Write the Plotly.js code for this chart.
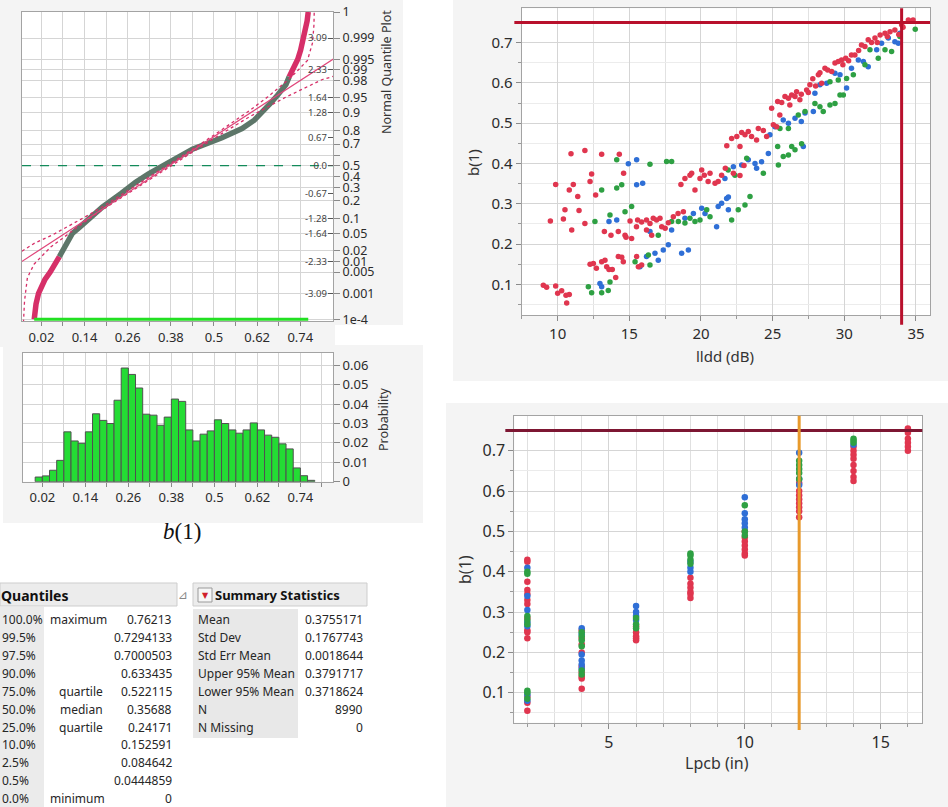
<!DOCTYPE html>
<html><head><meta charset="utf-8">
<script src="https://cdn.plot.ly/plotly-3.0.1.min.js"></script>
<style>html,body{margin:0;padding:0;background:#fff}#chart{width:948px;height:807px}</style>
</head><body><div id="chart"></div><script>
// ---------------- DATA ----------------
// Normal quantile plot: sorted b(1) vs normal quantile z
const qLowZ = [-3.72, -3.55, -3.35, -3.09, -2.9, -2.75, -2.576, -2.4, -2.2];
const qLowB = [0.0, 0.001, 0.005, 0.012, 0.02, 0.03, 0.0445, 0.058, 0.07];
const qMidZ = [-2.2, -1.96, -1.8, -1.64, -1.5, -1.28, -1.0, -0.674, -0.4, -0.2, 0, 0.2, 0.4, 0.674, 0.9, 1.1, 1.28, 1.5, 1.7, 1.96, 2.15];
const qMidB = [0.07, 0.0846, 0.094, 0.106, 0.125, 0.1526, 0.19, 0.2417, 0.282, 0.318, 0.3569, 0.398, 0.44, 0.5221, 0.578, 0.612, 0.6334, 0.656, 0.676, 0.7001, 0.709];
const qHighZ = [2.15, 2.35, 2.576, 2.8, 3.09, 3.3, 3.5, 3.72];
const qHighB = [0.709, 0.72, 0.733, 0.741, 0.75, 0.755, 0.759, 0.7621];
// confidence bands (dotted)
const bandUpB = [-0.034, 0.0, 0.05, 0.1, 0.15, 0.2, 0.3, 0.4, 0.5, 0.6, 0.65, 0.7, 0.727, 0.745, 0.76, 0.774, 0.778, 0.779];
const bandUpZ = [-2.07, -1.88, -1.68, -1.45, -1.2, -0.94, -0.39, 0.17, 0.74, 1.34, 1.67, 2.03, 2.25, 2.4, 2.55, 2.97, 3.4, 3.8];
const bandLoB = [-0.03, -0.029, -0.027, -0.019, 0.0, 0.02, 0.046, 0.1, 0.15, 0.2, 0.3, 0.4, 0.5, 0.6, 0.7, 0.8, 0.831];
const bandLoZ = [-3.8, -3.6, -3.28, -2.71, -2.38, -2.2, -1.97, -1.62, -1.3, -1.01, -0.45, 0.11, 0.66, 1.19, 1.66, 2.08, 2.16];
// probability axis
const probZ = [3.719, 3.09, 2.576, 2.326, 2.054, 1.645, 1.2816, 0.8416, 0.5244, 0.2533, 0, -0.2533, -0.5244, -0.8416, -1.2816, -1.645, -2.054, -2.326, -2.576, -3.09, -3.719];
const probText = ["1", "0.999", "0.995", "0.99", "0.98", "0.95", "0.9", "0.8", "0.7", "", "0.5", "0.4", "0.3", "0.2", "0.1", "0.05", "0.02", "0.01", "0.005", "0.001", "1e-4"];
const innerZ = [3.09, 2.326, 1.645, 1.2816, 0.674, 0, -0.674, -1.2816, -1.645, -2.326, -3.09];
const innerText = ["3.09", "2.33", "1.64", "1.28", "0.67", "0.0", "-0.67", "-1.28", "-1.64", "-2.33", "-3.09"];
const bTickVals = [0.02, 0.08, 0.14, 0.2, 0.26, 0.32, 0.38, 0.44, 0.5, 0.56, 0.62, 0.68, 0.74, 0.8];
const bTickText = ["0.02", "", "0.14", "", "0.26", "", "0.38", "", "0.5", "", "0.62", "", "0.74", ""];
// histogram
const binLeft = [0, 0.02, 0.04, 0.06, 0.08, 0.10, 0.12, 0.14, 0.16, 0.18, 0.20, 0.22, 0.24, 0.26, 0.28, 0.30, 0.32, 0.34, 0.36, 0.38, 0.40, 0.42, 0.44, 0.46, 0.48, 0.50, 0.52, 0.54, 0.56, 0.58, 0.60, 0.62, 0.64, 0.66, 0.68, 0.70, 0.72, 0.74, 0.76];
const binProb = [0.0024, 0.003, 0.0059, 0.011, 0.0257, 0.021, 0.0198, 0.0257, 0.035, 0.0316, 0.030, 0.042, 0.0586, 0.0553, 0.0483, 0.0348, 0.0343, 0.0291, 0.0333, 0.0426, 0.0414, 0.0267, 0.021, 0.0245, 0.0262, 0.0319, 0.030, 0.0267, 0.025, 0.0267, 0.0303, 0.0267, 0.024, 0.0229, 0.0195, 0.0169, 0.0071, 0.0031, 0.0007];
const probTickVals = [0, 0.01, 0.02, 0.03, 0.04, 0.05, 0.06];
const probTickText = ["0", "0.01", "0.02", "0.03", "0.04", "0.05", "0.06"];
// tables
const quantLevels = ["100.0%", "99.5%", "97.5%", "90.0%", "75.0%", "50.0%", "25.0%", "10.0%", "2.5%", "0.5%", "0.0%"];
const quantNotes = ["maximum", "", "", "", "quartile", "median", "quartile", "", "", "", "minimum"];
const quantValues = ["0.76213", "0.7294133", "0.7000503", "0.633435", "0.522115", "0.35688", "0.24171", "0.152591", "0.084642", "0.0444859", "0"];
const statLabels = ["Mean", "Std Dev", "Std Err Mean", "Upper 95% Mean", "Lower 95% Mean", "N", "N Missing"];
const statValues = ["0.3755171", "0.1767743", "0.0018644", "0.3791717", "0.3718624", "8990", "0"];
// Ildd scatter
const ilddRedX = [9.49,9.86,10.81,11.09,10.93,11.9,13.07,14.3,11.4,12.37,12.26,12.65,10.51,11.49,10.4,10.98,11.9,13.26,13.72,14.23,14.7,14.77,15.16,14.6,15.05,15.5,15.58,15.86,16.2,16.44,16.67,16.9,17.14,16.2,16.56,17.26,17.5,17.72,18.07,18.4,18.77,18.6,18.88,19.23,19.35,19.58,19.93,20.05,20.23,20.63,20.5,20.98,21.2,21.44,21.7,21.8,22.14,22.5,22.72,22.84,23.07,23.3,23.53,23.88,24.0,24.35,24.58,24.93,25.05,25.28,25.35,25.63,25.86,26.1,26.33,26.56,26.67,26.9,27.0,27.37,27.49,27.6,28.0,28.19,28.42,28.65,28.84,29.12,29.35,29.58,29.81,30.1,30.5,30.74,31.2,31.44,31.67,32.14,32.5,32.84,33.19,33.53,34.0,34.47,34.8,9.0,9.23,9.86,10.0,10.28,10.58,10.63,10.81,12.26,12.49,12.7,13.07,13.3,13.42,13.58,13.81,14.05,14.23,14.47,14.58,15.51,15.86,15.63,22.26,22.72,23.0,25.5,26.2,27.8,28.3,29.9,30.3,31.0,31.9,32.3,33.0,33.8,34.1];
const ilddRedY = [0.257,0.348,0.334,0.348,0.424,0.432,0.423,0.423,0.318,0.374,0.355,0.322,0.285,0.283,0.262,0.235,0.251,0.231,0.222,0.231,0.222,0.217,0.214,0.376,0.257,0.243,0.26,0.255,0.26,0.251,0.264,0.26,0.264,0.235,0.222,0.243,0.239,0.253,0.268,0.276,0.28,0.348,0.363,0.371,0.376,0.334,0.363,0.384,0.371,0.376,0.355,0.351,0.355,0.371,0.388,0.444,0.462,0.467,0.442,0.477,0.471,0.479,0.467,0.458,0.487,0.482,0.467,0.537,0.496,0.491,0.554,0.551,0.566,0.562,0.57,0.566,0.578,0.558,0.572,0.582,0.576,0.595,0.592,0.62,0.599,0.636,0.632,0.628,0.649,0.653,0.657,0.661,0.669,0.669,0.694,0.69,0.707,0.711,0.719,0.723,0.727,0.731,0.744,0.756,0.756,0.098,0.093,0.096,0.078,0.084,0.073,0.054,0.075,0.15,0.152,0.14,0.156,0.16,0.144,0.137,0.137,0.117,0.169,0.167,0.156,0.169,0.148,0.144,0.376,0.37,0.395,0.52,0.545,0.61,0.625,0.645,0.655,0.68,0.70,0.70,0.715,0.72,0.738];
const ilddBlueX = [13.58,14.12,14.93,15.51,15.51,15.93,15.74,16.2,16.44,16.79,17.02,17.37,17.72,17.95,18.65,19.12,18.88,19.47,20.05,20.28,21.09,21.2,21.44,21.79,21.91,21.91,21.67,22.26,22.84,23.3,23.77,23.88,24.23,24.7,24.81,25.16,25.74,26.1,26.56,27.0,27.14,27.26,27.84,27.95,28.3,28.77,29.35,29.7,30.16,30.5,30.98,31.33,31.67,32.26,32.6,33.07,33.53,33.77,33.88,12.95,13.07];
const ilddBlueY = [0.256,0.26,0.399,0.409,0.347,0.351,0.144,0.169,0.231,0.177,0.16,0.185,0.198,0.235,0.177,0.185,0.264,0.276,0.289,0.276,0.243,0.293,0.301,0.313,0.317,0.285,0.363,0.392,0.396,0.409,0.4,0.388,0.404,0.425,0.471,0.491,0.508,0.5,0.512,0.504,0.442,0.525,0.529,0.574,0.595,0.599,0.624,0.62,0.587,0.636,0.657,0.653,0.64,0.682,0.698,0.711,0.702,0.698,0.723,0.102,0.094];
const ilddGreenX = [12.6,13.07,13.65,14.12,14.12,14.47,14.7,15.16,16.44,17.6,17.95,12.14,12.37,13.07,13.53,13.65,15.4,16.33,16.44,17.02,17.95,18.42,18.88,19.23,19.58,19.93,20.4,20.63,22.14,22.6,23.07,23.42,21.9,22.37,23.19,24.35,25.35,25.4,25.74,26.1,26.33,26.56,27.02,25.51,26.1,26.79,27.26,27.95,28.3,28.53,29.0,29.35,29.7,29.93,29.0,29.58,30.16,30.63,31.44,31.79,32.37,32.84,33.3,33.88,34.95];
const ilddGreenY = [0.256,0.334,0.272,0.409,0.339,0.347,0.28,0.293,0.398,0.405,0.405,0.094,0.079,0.079,0.085,0.106,0.156,0.173,0.148,0.222,0.256,0.256,0.252,0.264,0.256,0.26,0.285,0.268,0.26,0.285,0.297,0.318,0.384,0.371,0.413,0.376,0.442,0.396,0.417,0.421,0.442,0.434,0.449,0.487,0.487,0.52,0.529,0.549,0.541,0.529,0.545,0.549,0.57,0.57,0.603,0.607,0.611,0.62,0.645,0.682,0.661,0.682,0.678,0.715,0.733];
// Lpcb scatter
const lpcbRedX = [2,2,2,2,2,2,2,2,2,2,2,2,2,2, 4,4,4,4,4,4,4,4,4, 6,6,6,6,6, 8,8,8,8,8,8, 10,10,10,10,10,10,10, 12,12,12,12,12,12,12,12, 14,14,14,14,14,14,14,14, 16,16,16,16,16,16];
const lpcbRedY = [0.43,0.425,0.375,0.355,0.345,0.33,0.32,0.285,0.255,0.25,0.235,0.09,0.075,0.055, 0.255,0.235,0.22,0.2,0.165,0.15,0.14,0.135,0.11, 0.265,0.25,0.24,0.235,0.23, 0.385,0.37,0.36,0.35,0.345,0.335, 0.5,0.485,0.475,0.465,0.455,0.445,0.44, 0.62,0.6,0.59,0.58,0.57,0.56,0.55,0.535, 0.71,0.7,0.69,0.68,0.665,0.65,0.635,0.625, 0.755,0.745,0.73,0.72,0.71,0.70];
const lpcbBlueX = [2,2,2,2,2,2,2, 4,4,4,4,4,4, 6,6,6,6, 8,8,8, 10,10,10,10,10, 12,12,12, 14];
const lpcbBlueY = [0.41,0.34,0.305,0.275,0.265,0.095,0.08, 0.26,0.245,0.195,0.18,0.17,0.16, 0.315,0.30,0.29,0.28, 0.425,0.41,0.40, 0.585,0.545,0.53,0.52,0.51, 0.695,0.63,0.615, 0.715];
const lpcbGreenX = [2,2,2,2,2,2,2,2, 4,4,4,4,4,4, 6,6,6, 8,8,8,8, 10,10,10, 12,12,12,12,12, 14,14,14];
const lpcbGreenY = [0.40,0.395,0.29,0.28,0.27,0.105,0.1,0.085, 0.25,0.24,0.23,0.215,0.155,0.145, 0.285,0.27,0.26, 0.445,0.44,0.43,0.42, 0.565,0.5,0.49, 0.675,0.665,0.655,0.645,0.63, 0.73,0.725,0.72];
// reference limits
const specLimit = 0.75;
const ilddLimit = 34;
const lpcbLimit = 12;

// ---------------- LAYOUT HELPERS ----------------
const W = 948, H = 807;
const fx = v => v / W, fy = v => 1 - v / H;
const FONT = "Noto Sans, DejaVu Sans, sans-serif";
const PINK = "#d62f68", GRAYG = "#5d7669", RED = "#e0364f", BLUE = "#2f6fd6", GREEN = "#2ea043";
const mean = parseFloat(statValues[0]), sd = parseFloat(statValues[1]);
const zRange = [-3.76, 3.72];
const bRange = [-0.034, 0.831];

const traces = [];
// z = 0 reference (dashed green)
traces.push({x: bRange, y: [0, 0], xaxis: 'x', yaxis: 'y', mode: 'lines', line: {color: '#138a5a', width: 1.2, dash: 'dash'}});
// quantile curve
traces.push({x: qLowB, y: qLowZ, xaxis: 'x', yaxis: 'y', mode: 'lines', line: {color: PINK, width: 5.5}});
traces.push({x: qHighB, y: qHighZ, xaxis: 'x', yaxis: 'y', mode: 'lines', line: {color: PINK, width: 5.5}});
traces.push({x: qMidB, y: qMidZ, xaxis: 'x', yaxis: 'y', mode: 'lines', line: {color: GRAYG, width: 5.5}});
// rug at bottom
const rugMin = parseFloat(quantValues[10]), rugMax = parseFloat(quantValues[0]);
traces.push({x: [rugMin, rugMax], y: [-3.72, -3.72], xaxis: 'x', yaxis: 'y', mode: 'lines', line: {color: '#22e022', width: 3}});
// bands (on overlay axis)
traces.push({x: bandUpB, y: bandUpZ, xaxis: 'x', yaxis: 'y2', mode: 'lines', line: {color: PINK, width: 1.3, dash: 'dot'}});
traces.push({x: bandLoB, y: bandLoZ, xaxis: 'x', yaxis: 'y2', mode: 'lines', line: {color: PINK, width: 1.3, dash: 'dot'}});
traces.push({x: zRange.map(z => mean + sd * z), y: zRange, xaxis: 'x', yaxis: 'y2', mode: 'lines', line: {color: '#e0457a', width: 1.2}});
// histogram
traces.push({type: 'bar', x: binLeft, y: binProb, offset: 0, width: 0.02, xaxis: 'x2', yaxis: 'y3',
  marker: {color: '#24dc34', line: {color: '#505050', width: 1}}});
// Ildd scatter
const mk = (c, s) => ({color: c, size: s, line: {width: 0}});
traces.push({x: ilddBlueX, y: ilddBlueY, xaxis: 'x3', yaxis: 'y4', mode: 'markers', marker: mk(BLUE, 5.5)});
traces.push({x: ilddGreenX, y: ilddGreenY, xaxis: 'x3', yaxis: 'y4', mode: 'markers', marker: mk(GREEN, 5.5)});
traces.push({x: ilddRedX, y: ilddRedY, xaxis: 'x3', yaxis: 'y4', mode: 'markers', marker: mk(RED, 5.5)});
// Lpcb scatter
traces.push({x: lpcbRedX, y: lpcbRedY, xaxis: 'x4', yaxis: 'y5', mode: 'markers', marker: mk(RED, 6.5)});
traces.push({x: lpcbBlueX, y: lpcbBlueY, xaxis: 'x4', yaxis: 'y5', mode: 'markers', marker: mk(BLUE, 6.5)});
traces.push({x: lpcbGreenX, y: lpcbGreenY, xaxis: 'x4', yaxis: 'y5', mode: 'markers', marker: mk(GREEN, 6.5)});

const gridC = '#d5d5d5', lineC = '#a3a3a3', tickC = '#2b2b2b';
const base = () => ({showline: true, linecolor: lineC, linewidth: 1, mirror: true, zeroline: false,
  showgrid: true, gridcolor: gridC, gridwidth: 1, ticks: 'outside', tickcolor: '#8a8a8a', ticklen: 4,
  tickfont: {family: FONT, size: 13, color: tickC}, fixedrange: true});

const layout = {
  width: W, height: H, margin: {l: 0, r: 0, t: 0, b: 0}, paper_bgcolor: '#ffffff', plot_bgcolor: '#ffffff',
  showlegend: false, hovermode: false, bargap: 0, font: {family: FONT, color: tickC},
  xaxis: Object.assign(base(), {domain: [fx(22), fx(333)], anchor: 'y', range: bRange, tickmode: 'array', tickvals: bTickVals, ticktext: bTickText}),
  yaxis: Object.assign(base(), {domain: [fy(321), fy(12)], anchor: 'x', side: 'right', range: zRange, tickmode: 'array', tickvals: probZ, ticktext: probText, ticklen: 6,
    tickfont: {family: FONT, size: 12.5, color: tickC}}),
  yaxis2: {overlaying: 'y', anchor: 'x', side: 'right', range: zRange, tickmode: 'array', tickvals: innerZ, ticktext: innerText,
    ticklabelposition: 'inside', ticks: 'inside', ticklen: 5, tickcolor: '#555', tickfont: {family: FONT, size: 9.5, color: '#444'},
    showgrid: false, showline: false, zeroline: false, fixedrange: true},
  xaxis2: Object.assign(base(), {domain: [fx(23), fx(333)], anchor: 'y3', range: bRange, tickmode: 'array', tickvals: bTickVals, ticktext: bTickText}),
  yaxis3: Object.assign(base(), {domain: [fy(481.7), fy(352.7)], anchor: 'x2', side: 'right', range: [0, 0.0665], tickmode: 'array', tickvals: probTickVals, ticktext: probTickText, ticklen: 6}),
  xaxis3: Object.assign(base(), {domain: [fx(521.7), fx(930)], anchor: 'y4', range: [7.49, 35.98], tickmode: 'linear', tick0: 0, dtick: 5,
    tickfont: {family: FONT, size: 15, color: tickC}, ticklen: 5,
    minor: {tick0: 0, dtick: 2.5, showgrid: true, gridcolor: '#e2e2e2', ticks: 'outside', ticklen: 3, tickcolor: '#999'}}),
  yaxis4: Object.assign(base(), {domain: [fy(315), fy(8.3)], anchor: 'x3', range: [0.024, 0.785], tickmode: 'linear', tick0: 0, dtick: 0.1,
    tickfont: {family: FONT, size: 15, color: tickC}, ticklen: 5,
    minor: {tick0: 0, dtick: 0.05, showgrid: true, gridcolor: '#ececec', ticks: 'outside', ticklen: 3, tickcolor: '#999'}}),
  xaxis4: Object.assign(base(), {domain: [fx(514.3), fx(922.3)], anchor: 'y5', range: [1.52, 16.53], tickmode: 'linear', tick0: 0, dtick: 5,
    tickfont: {family: FONT, size: 16, color: tickC}, ticklen: 5,
    minor: {tick0: 0, dtick: 1, showgrid: true, gridcolor: '#e0e0e0', ticks: 'outside', ticklen: 3, tickcolor: '#999'}}),
  yaxis5: Object.assign(base(), {domain: [fy(722.7), fy(415.7)], anchor: 'x4', range: [0.0256, 0.787], tickmode: 'linear', tick0: 0, dtick: 0.1,
    tickfont: {family: FONT, size: 16, color: tickC}, ticklen: 5,
    minor: {tick0: 0, dtick: 0.05, showgrid: true, gridcolor: '#ebebeb', ticks: 'outside', ticklen: 3, tickcolor: '#999'}}),
  shapes: [], annotations: []
};

function rect(x0, y0, x1, y1, fill, line) {
  layout.shapes.push({type: 'rect', xref: 'paper', yref: 'paper', x0: fx(x0), x1: fx(x1), y0: fy(y1), y1: fy(y0),
    fillcolor: fill, line: {color: line || fill, width: line ? 1 : 0}, layer: 'below'});
}
// panel backgrounds
const PANEL = '#f4f4f4';
rect(0, 0, 403, 325, PANEL);
rect(0, 325, 335, 347, PANEL);
rect(3, 345, 423, 523, PANEL);
rect(453, 0, 948, 381, PANEL);
rect(446, 403, 948, 807, PANEL);
// plot areas white
rect(22, 12, 333, 321, '#ffffff');
rect(23, 352.7, 333, 481.7, '#ffffff');
rect(521.7, 8.3, 930, 315, '#ffffff');
rect(514.3, 415.7, 922.3, 722.7, '#ffffff');
// table backgrounds
rect(0, 583, 177, 606, '#ececec', '#cdcdcd');
rect(193, 583, 367, 606, '#ececec', '#cdcdcd');
rect(0, 607, 44, 807, '#ebebeb');
rect(193, 609, 298, 738, '#e8e8e8');
rect(198, 588, 212, 602, '#f6f6f6', '#9a9a9a');

// reference lines
layout.shapes.push({type: 'line', xref: 'x3 domain', yref: 'y4', x0: -0.018, x1: 1, y0: specLimit, y1: specLimit, line: {color: '#b8102c', width: 3}, layer: 'above'});
layout.shapes.push({type: 'line', xref: 'x3', yref: 'y4 domain', x0: ilddLimit, x1: ilddLimit, y0: -0.032, y1: 1, line: {color: '#b8102c', width: 3}, layer: 'above'});
layout.shapes.push({type: 'line', xref: 'x4 domain', yref: 'y5', x0: -0.022, x1: 1, y0: specLimit, y1: specLimit, line: {color: '#7d1632', width: 3}, layer: 'above'});
layout.shapes.push({type: 'line', xref: 'x4', yref: 'y5 domain', x0: lpcbLimit, x1: lpcbLimit, y0: -0.024, y1: 1, line: {color: '#e89a2c', width: 3}, layer: 'above'});

function txt(x, y, text, o) {
  o = o || {};
  layout.annotations.push({xref: 'paper', yref: 'paper', x: fx(x), y: fy(y), text: text, showarrow: false,
    xanchor: o.xa || 'center', yanchor: o.ya || 'middle', textangle: o.angle || 0, borderpad: 0,
    font: {family: o.family || FONT, size: o.size || 13, color: o.color || '#262626'}});
}
// titles
txt(387, 72, 'Normal Quantile Plot', {angle: -90, size: 12.5, color: '#333'});
txt(383, 419, 'Probability', {angle: -90, size: 12.5, color: '#333'});
txt(182, 531, '<i>b</i>(1)', {family: 'Liberation Serif, DejaVu Serif, serif', size: 23, color: '#111'});
txt(473, 163, 'b(1)', {angle: -90, size: 15, color: '#333'});
txt(725, 356, 'lldd (dB)', {size: 15, color: '#333'});
txt(465, 570, 'b(1)', {angle: -90, size: 16, color: '#333'});
txt(717, 763, 'Lpcb (in)', {size: 16, color: '#333'});
// tables
txt(0, 595, '<b>Quantiles</b>', {xa: 'left', size: 14, color: '#111'});
txt(183, 595, '⊿', {size: 12, color: '#888', family: 'DejaVu Sans'});
txt(205, 595, '▼', {size: 8, color: '#d0202a', family: 'DejaVu Sans'});
txt(214, 595, '<b>Summary Statistics</b>', {xa: 'left', size: 13, color: '#111'});
const rowY0 = 619.3, rowH = 17.95;
quantLevels.forEach((lv, i) => {
  const y = rowY0 + i * rowH;
  txt(1, y, lv, {xa: 'left', size: 12});
  const n = quantNotes[i];
  if (n === 'maximum' || n === 'minimum') txt(49, y, n, {xa: 'left', size: 12});
  else if (n) txt(104, y, n, {xa: 'right', size: 12});
  txt(173, y, quantValues[i], {xa: 'right', size: 12});
});
statLabels.forEach((lb, i) => {
  const y = rowY0 + i * rowH;
  txt(197, y, lb, {xa: 'left', size: 12});
  txt(364, y, statValues[i], {xa: 'right', size: 12});
});

Plotly.newPlot('chart', traces, layout, {displayModeBar: false, staticPlot: true});
</script></body></html>
